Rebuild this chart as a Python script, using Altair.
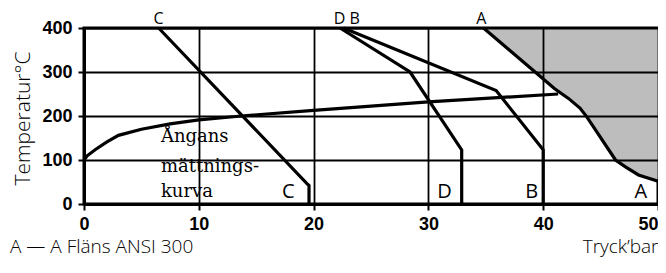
import altair as alt
import pandas as pd

# ---- data ----
a_press = [34.8, 39.6, 41.0, 42.2, 43.2, 43.8, 46.3, 47.2, 48.3, 50.0]
a_temp = [400, 293, 262, 240, 218, 198, 100, 84, 66, 52]
b_press = [22.6, 35.9, 40.0, 40.0]
b_temp = [400, 258, 123, 0]
c_press = [6.5, 19.4, 19.6, 19.6]
c_temp = [400, 47, 42, 0]
d_press = [22.3, 28.4, 32.9, 32.9]
d_temp = [400, 300, 123, 0]
sat_press = [0, 0.3, 1, 2, 3, 5, 7.5, 10, 13.7, 20, 30, 41.3]
sat_temp = [100, 110, 124, 141, 156, 170, 182, 191, 200, 213, 232, 250]

x_ticks = [0, 10, 20, 30, 40, 50]
y_ticks = [0, 100, 200, 300, 400]

top_labels = ["C", "D B", "A"]
top_label_x = [6.5, 22.9, 34.6]
bottom_labels = ["C", "D", "B", "A"]
bottom_label_x = [17.8, 31.4, 39.0, 48.5]
bottom_label_t = [27, 27, 27, 27]
sat_lines = ["Ångans", "mättnings-", "kurva"]
sat_line_x = [6.7, 6.7, 6.7]
sat_line_t = [152, 84, 27]

# ---- tables ----
rows = []
for name, px, ty in [("A", a_press, a_temp), ("B", b_press, b_temp),
                     ("C", c_press, c_temp), ("D", d_press, d_temp),
                     ("S", sat_press, sat_temp)]:
    for i, (p, t) in enumerate(zip(px, ty)):
        rows.append({"series": name, "i": i, "press": p, "temp": t})
lines_df = pd.DataFrame(rows)
area_df = pd.DataFrame({"press": a_press, "temp": a_temp})
top_df = pd.DataFrame({"label": top_labels, "press": top_label_x, "temp": [400] * 3})
bot_df = pd.DataFrame({"label": bottom_labels, "press": bottom_label_x, "temp": bottom_label_t})
sat_df = pd.DataFrame({"label": sat_lines, "press": sat_line_x, "temp": sat_line_t})

xs = alt.Scale(domain=[0, 50], nice=False, zero=False)
ys = alt.Scale(domain=[0, 400], nice=False, zero=False)

x_axis = alt.Axis(values=x_ticks, grid=True, gridColor="black", gridWidth=1.8, gridOpacity=1,
                  domainColor="black", domainWidth=3, tickColor="black", tickWidth=2, tickSize=6,
                  labelFont="Liberation Sans", labelFontWeight="bold", labelFontSize=18,
                  labelColor="black", labelPadding=5, labelFlush=False,
                  labelAlign={"condition": {"test": "datum.value == 50", "value": "right"},
                              "value": "center"},
                  title="Tryck’bar", titleFont="Open Sans", titleFontWeight=300, titleFontSize=19,
                  titleColor="black", titleAnchor="start", titleX=574, titleY=42,
                  titleAlign="right", titleBaseline="middle", zindex=1)
y_axis = alt.Axis(values=y_ticks, grid=True, gridColor="black", gridWidth=1.8, gridOpacity=1,
                  domainColor="black", domainWidth=3, tickColor="black", tickWidth=2, tickSize=6,
                  labelFont="Liberation Sans", labelFontWeight="bold", labelFontSize=18,
                  labelColor="black", labelPadding=6, labelFlush=False,
                  title="Temperatur°C", titleFont="Open Sans", titleFontWeight=300, titleFontSize=21,
                  titleColor="black", titleX=-61, titleY=90, titleAngle=270,
                  titleAlign="center", titleBaseline="middle", zindex=1)

area = alt.Chart(area_df).mark_area(orient="horizontal", color="#bdbdbd").encode(
    y=alt.Y("temp:Q", scale=ys, axis=y_axis),
    x=alt.X("press:Q", scale=xs, axis=x_axis),
    x2=alt.datum(50),
)

lines = alt.Chart(lines_df).mark_line(color="black", strokeWidth=3.2, strokeJoin="miter").encode(
    x=alt.X("press:Q", scale=xs),
    y=alt.Y("temp:Q", scale=ys),
    detail="series:N",
    order="i:Q",
)

top_text = alt.Chart(top_df).mark_text(font="Open Sans", fontSize=16, color="black",
                                       baseline="middle", dy=-9).encode(
    x=alt.X("press:Q", scale=xs), y=alt.Y("temp:Q", scale=ys), text="label:N")

bot_text = alt.Chart(bot_df).mark_text(font="Open Sans", fontSize=20, color="black",
                                       baseline="middle").encode(
    x=alt.X("press:Q", scale=xs), y=alt.Y("temp:Q", scale=ys), text="label:N")

sat_text = alt.Chart(sat_df).mark_text(font="DejaVu Serif", fontSize=18, color="black",
                                       align="left", baseline="middle").encode(
    x=alt.X("press:Q", scale=xs), y=alt.Y("temp:Q", scale=ys), text="label:N")

legend_text = alt.Chart(pd.DataFrame({"t": ["A — A Fläns ANSI 300"]})).mark_text(
    font="Open Sans", fontWeight=300, fontSize=19, color="black", align="left",
    baseline="alphabetic").encode(
    x=alt.value(-74), y=alt.value(225), text="t:N")

chart = alt.layer(area, lines, top_text, bot_text, sat_text, legend_text).properties(
    width=574, height=176,
    autosize=alt.AutoSizeParams(type="none"),
    padding={"left": 76, "top": 20, "right": 0, "bottom": 56},
).configure_view(stroke="black", strokeWidth=3)

chart.save("out.html", embed_options={"renderer": "svg", "actions": False})
